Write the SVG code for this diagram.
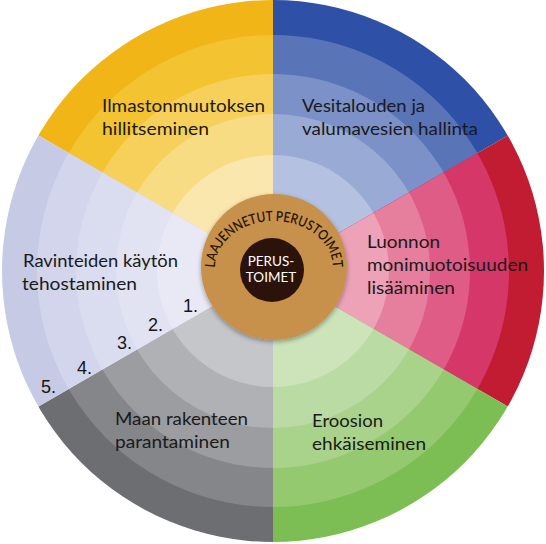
<svg xmlns="http://www.w3.org/2000/svg" width="546" height="544" viewBox="0 0 546 544">
<style>
.lbl{font-family:Lato,"Open Sans",sans-serif;font-size:17.5px;fill:#1a1a1a}
.num{font-family:"Liberation Sans",Arial,sans-serif;font-size:18px;fill:#151515}
.ctr{font-family:Lato,"Open Sans",sans-serif;font-size:13.5px;fill:#ffffff;text-anchor:middle}
.arc{font-family:Lato,"Open Sans",sans-serif;font-size:14px;font-weight:600;fill:#2a1608}
</style>
<defs>
<clipPath id="cY"><polygon points="273,271 273,-10 -10,-10 -10,107.6"/></clipPath>
<clipPath id="cB"><polygon points="273,271 556,107.6 556,-10 273,-10"/></clipPath>
<clipPath id="cR"><polygon points="273,271 556,107.6 556,434.4"/></clipPath>
<clipPath id="cG"><polygon points="273,271 556,434.4 556,554 273,554"/></clipPath>
<clipPath id="cK"><polygon points="273,271 273,554 -10,554 -10,434.4"/></clipPath>
<clipPath id="cL"><polygon points="273,271 -10,434.4 -10,107.6"/></clipPath>
<path id="archPath" d="M 215,268 A 59,47 0 0 1 333,268"/>
<filter id="sh" x="-20%" y="-20%" width="140%" height="140%"><feGaussianBlur in="SourceAlpha" stdDeviation="2.5"/><feOffset dy="2"/><feComponentTransfer><feFuncA type="linear" slope="0.35"/></feComponentTransfer><feMerge><feMergeNode/><feMergeNode in="SourceGraphic"/></feMerge></filter>
</defs>

<g id="sector-ilmasto" clip-path="url(#cY)">
<circle cx="273" cy="271" r="271" fill="#F1B517"/>
<circle cx="273" cy="271" r="236" fill="#F4C331"/>
<circle cx="273" cy="271" r="197" fill="#F6D05A"/>
<circle cx="273" cy="271" r="157" fill="#F8DC84"/>
<circle cx="273" cy="271" r="116" fill="#FAE7AE"/>
</g>
<g id="sector-vesitalous" clip-path="url(#cB)">
<circle cx="273" cy="271" r="271" fill="#2E50A6"/>
<circle cx="273" cy="271" r="236" fill="#5A74B8"/>
<circle cx="273" cy="271" r="197" fill="#7B91C7"/>
<circle cx="273" cy="271" r="157" fill="#99AAD4"/>
<circle cx="273" cy="271" r="116" fill="#B4C1E0"/>
</g>
<g id="sector-luonto" clip-path="url(#cR)">
<circle cx="273" cy="271" r="271" fill="#C21C32"/>
<circle cx="273" cy="271" r="236" fill="#D53769"/>
<circle cx="273" cy="271" r="197" fill="#DF5C86"/>
<circle cx="273" cy="271" r="157" fill="#E67E9E"/>
<circle cx="273" cy="271" r="116" fill="#EDA2B8"/>
</g>
<g id="sector-eroosio" clip-path="url(#cG)">
<circle cx="273" cy="271" r="271" fill="#7CBE53"/>
<circle cx="273" cy="271" r="236" fill="#94C970"/>
<circle cx="273" cy="271" r="197" fill="#A9D28B"/>
<circle cx="273" cy="271" r="157" fill="#BBDBA4"/>
<circle cx="273" cy="271" r="116" fill="#CDE4BB"/>
</g>
<g id="sector-maa" clip-path="url(#cK)">
<circle cx="273" cy="271" r="271" fill="#6C6E72"/>
<circle cx="273" cy="271" r="236" fill="#84868A"/>
<circle cx="273" cy="271" r="197" fill="#9B9DA1"/>
<circle cx="273" cy="271" r="157" fill="#AFB1B5"/>
<circle cx="273" cy="271" r="116" fill="#C4C6CA"/>
</g>
<g id="sector-ravinteet" clip-path="url(#cL)">
<circle cx="273" cy="271" r="271" fill="#C6CAE4"/>
<circle cx="273" cy="271" r="236" fill="#D2D5EB"/>
<circle cx="273" cy="271" r="197" fill="#DADDF0"/>
<circle cx="273" cy="271" r="157" fill="#E1E3F3"/>
<circle cx="273" cy="271" r="116" fill="#E8E9F5"/>
</g>

<g id="center">
<circle cx="274" cy="267" r="73" fill="#C8914B" filter="url(#sh)"/>
<text class="arc"><textPath href="#archPath" startOffset="50%" text-anchor="middle" textLength="166" lengthAdjust="spacingAndGlyphs">LAAJENNETUT PERUSTOIMET</textPath></text>
<circle cx="272" cy="270" r="32" fill="#2B130B"/>
<text class="ctr" x="271" y="266">PERUS-</text>
<text class="ctr" x="271" y="282">TOIMET</text>
</g>

<g id="labels">
<text class="lbl" x="102" y="112" textLength="163" lengthAdjust="spacingAndGlyphs">Ilmastonmuutoksen</text>
<text class="lbl" x="102" y="135" textLength="107" lengthAdjust="spacingAndGlyphs">hillitseminen</text>
<text class="lbl" x="302" y="112" textLength="123" lengthAdjust="spacingAndGlyphs">Vesitalouden ja</text>
<text class="lbl" x="302" y="135" textLength="176" lengthAdjust="spacingAndGlyphs">valumavesien hallinta</text>
<text class="lbl" x="367" y="248" textLength="73" lengthAdjust="spacingAndGlyphs">Luonnon</text>
<text class="lbl" x="367" y="271" textLength="161" lengthAdjust="spacingAndGlyphs">monimuotoisuuden</text>
<text class="lbl" x="367" y="294" textLength="88" lengthAdjust="spacingAndGlyphs">lisääminen</text>
<text class="lbl" x="23" y="267" textLength="155" lengthAdjust="spacingAndGlyphs">Ravinteiden käytön</text>
<text class="lbl" x="22" y="290" textLength="115" lengthAdjust="spacingAndGlyphs">tehostaminen</text>
<text class="lbl" x="115" y="425" textLength="133" lengthAdjust="spacingAndGlyphs">Maan rakenteen</text>
<text class="lbl" x="115" y="448" textLength="115" lengthAdjust="spacingAndGlyphs">parantaminen</text>
<text class="lbl" x="312" y="427" textLength="71" lengthAdjust="spacingAndGlyphs">Eroosion</text>
<text class="lbl" x="312" y="450" textLength="114" lengthAdjust="spacingAndGlyphs">ehkäiseminen</text>
</g>

<g id="ring-numbers">
<text class="num" x="183" y="312">1.</text>
<text class="num" x="148" y="331">2.</text>
<text class="num" x="117" y="349">3.</text>
<text class="num" x="77" y="374">4.</text>
<text class="num" x="41" y="393">5.</text>
</g>
</svg>
